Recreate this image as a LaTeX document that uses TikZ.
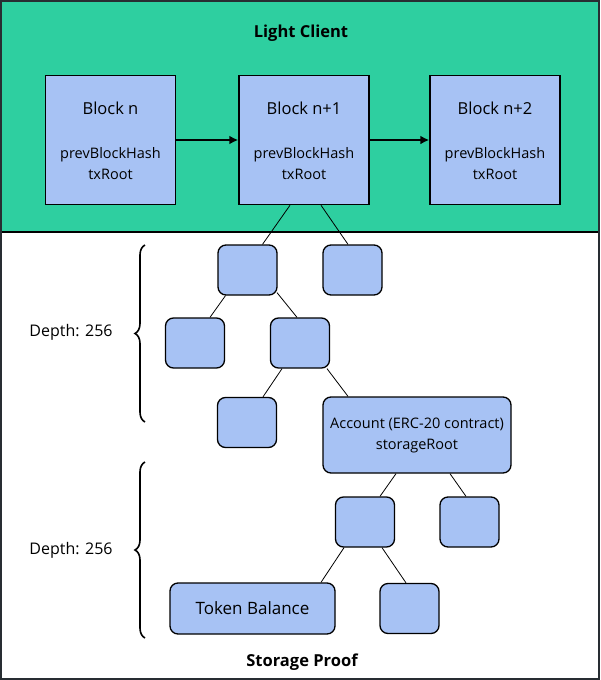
\documentclass[tikz,border=0pt]{standalone}
\usepackage{fontspec}
\setmainfont{Open Sans}
\usetikzlibrary{decorations.pathreplacing,calc,arrows.meta}
\definecolor{lcgreen}{RGB}{46,207,160}
\definecolor{nodeblue}{RGB}{167,194,244}
\definecolor{frame}{RGB}{40,45,50}
\begin{document}
\begin{tikzpicture}[x=1pt,y=-1pt,
  blockbox/.style={draw=black,line width=1.5pt,fill=nodeblue,minimum width=130pt,minimum height=129pt,inner sep=0pt,align=center},
  treebox/.style={draw=black,line width=1.3pt,fill=nodeblue,rounded corners=8pt,minimum width=59pt,minimum height=50pt,inner sep=0pt},
  edge/.style={line width=0.8pt,black},
  arrowline/.style={line width=2pt,-{Latex[length=9pt,width=9pt]}},
  bracestyle/.style={decorate,decoration={brace,amplitude=10pt},line width=1.6pt},
  titletext/.style={font=\bfseries\fontsize{16.5}{19}\selectfont},
  depthtext/.style={font=\fontsize{16}{19}\selectfont}
]
\useasboundingbox (0,0) rectangle (600,680);
% background
\fill[white] (0,0) rectangle (600,680);
\fill[lcgreen] (0,0) rectangle (600,232);
\draw[line width=1.5pt,black] (0,232) -- (600,232);
\draw[line width=2pt,frame] (1,1) rectangle (599,679);

\node[titletext] (lc) at (301,33) {Light Client};

% blocks
\node[blockbox] (b0) at (110.5,140) {};
\node[blockbox] (b1) at (304,140) {};
\node[blockbox] (b2) at (495,140) {};
\foreach \b/\t in {b0/Block n,b1/Block n+1,b2/Block n+2}{
  \node[font=\fontsize{16.5}{19}\selectfont] at ([yshift=32pt]\b.center) {\t};
  \node[align=center,font=\fontsize{14.5}{21}\selectfont] at ([yshift=-23.5pt]\b.center) {prevBlockHash\\txRoot};
}
\draw[arrowline] (b0.east) -- (b1.west);
\draw[arrowline] (b1.east) -- (b2.west);

% tree nodes
\node[treebox] (A) at (247.5,270) {};
\node[treebox] (B) at (352.5,270) {};
\node[treebox] (C) at (195,343) {};
\node[treebox] (D) at (300,343) {};
\node[treebox] (E) at (247,422.5) {};
\node[treebox,minimum width=188pt,minimum height=76pt,align=center,font=\fontsize{14.5}{21}\selectfont] (acc) at (417,435) {Account (ERC-20 contract)\\storageRoot};
\node[treebox] (F) at (365,522) {};
\node[treebox] (G) at (469.5,522) {};
\node[treebox,minimum width=165pt,minimum height=51pt,font=\fontsize{17}{20}\selectfont] (tok) at (252.5,608.5) {Token Balance};
\node[treebox] (H) at (409.5,608.5) {};

% edges
\draw[edge] ([xshift=-14pt]b1.south) -- ([xshift=15pt]A.north);
\draw[edge] ([xshift=17pt]b1.south) -- ([xshift=-4.5pt]B.north);
\draw[edge] ([xshift=-22pt]A.south) -- ([xshift=15pt]C.north);
\draw[edge] ([xshift=29.5pt,yshift=3pt]A.south) -- ([xshift=-3pt]D.north);
\draw[edge] ([xshift=-18pt]D.south) -- ([xshift=16pt]E.north);
\draw[edge] ([xshift=27pt]D.south) -- ([xshift=-69pt]acc.north);
\draw[edge] ([xshift=-21pt]acc.south) -- ([xshift=15pt]F.north);
\draw[edge] ([xshift=33pt]acc.south) -- ([xshift=-3.5pt]G.north);
\draw[edge] ([xshift=-21pt]F.south) -- ([xshift=68.5pt]tok.north);
\draw[edge] ([xshift=17pt]F.south) -- ([xshift=-3.5pt]H.north);

% braces
\coordinate (br1a) at (145,422);
\coordinate (br1b) at (145,245);
\coordinate (br2a) at (145,638);
\coordinate (br2b) at (145,462);
\draw[bracestyle] (br1a) -- (br1b);
\draw[bracestyle] (br2a) -- (br2b);
\node[depthtext] (d1) at (71,332) {Depth: 256};
\node[depthtext] (d2) at (71,550) {Depth: 256};

\node[titletext] (sp) at (302,662) {Storage Proof};
\end{tikzpicture}
\end{document}
